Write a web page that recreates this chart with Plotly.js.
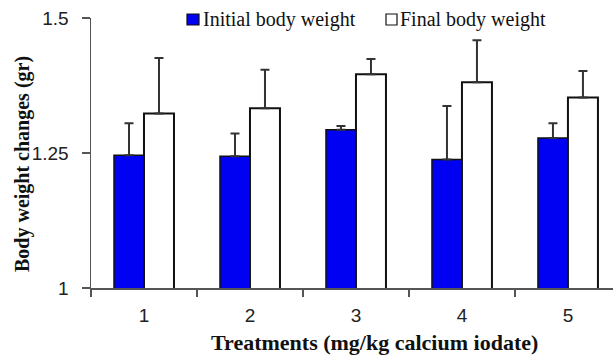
<!DOCTYPE html>
<html>
<head>
<meta charset="utf-8">
<script src="https://cdn.plot.ly/plotly-3.0.1.min.js"></script>
<style>html,body{margin:0;padding:0;background:#fff;}#chart{width:613px;height:360px;}</style>
</head>
<body>
<div id="chart"></div>
<script>
const categories = ["1", "2", "3", "4", "5"];
const initialWeight = [1.246, 1.244, 1.293, 1.238, 1.278];
const initialErr = [0.059, 0.042, 0.007, 0.099, 0.027];
const finalWeight = [1.323, 1.333, 1.396, 1.381, 1.353];
const finalErr = [0.103, 0.071, 0.028, 0.078, 0.049];
const zeros = [0, 0, 0, 0, 0];
const seriesNames = ["Initial body weight", "Final body weight"];
const yTickVals = [1, 1.25, 1.5];
const yTickText = ["1", "1.25", "1.5"];

// plot area in pixels: left 91, right 613, top 18, bottom 288
const PL = 91, PW = 522, PT = 18, PH = 270;
const px = (x) => (x - PL) / PW;
const py = (y) => (PT + PH - y) / PH;

const errStyle = (arr) => ({
  type: "data", symmetric: false, array: arr, arrayminus: zeros,
  visible: true, color: "#333333", thickness: 2, width: 4.5
});

const traces = [
  {
    type: "bar", name: seriesNames[0], x: categories, y: initialWeight,
    marker: {color: "#0000f2", line: {color: "#111111", width: 1.5}},
    error_y: errStyle(initialErr), showlegend: false
  },
  {
    type: "bar", name: seriesNames[1], x: categories, y: finalWeight,
    marker: {color: "#ffffff", line: {color: "#111111", width: 2}},
    error_y: errStyle(finalErr), showlegend: false
  }
];

const serif = "Liberation Serif, Times New Roman, serif";
const sans = "Liberation Sans, Arial, sans-serif";

const layout = {
  width: 613, height: 360,
  margin: {l: PL, r: 0, t: PT, b: 360 - PT - PH},
  paper_bgcolor: "#ffffff", plot_bgcolor: "#ffffff",
  barmode: "group", bargap: 0.434, bargroupgap: 0,
  font: {family: sans, color: "#222222", size: 19},
  xaxis: {
    type: "category", range: [-0.5, 4.425],
    showline: true, linecolor: "#555555", linewidth: 1.5,
    ticks: "outside", tickson: "boundaries", ticklen: 7, tickcolor: "#555555", tickwidth: 1.5,
    showgrid: false, zeroline: false, ticklabelstandoff: 10,
    tickfont: {family: sans, size: 19, color: "#222222"}
  },
  yaxis: {
    range: [1, 1.5], tickvals: yTickVals, ticktext: yTickText,
    showline: true, linecolor: "#555555", linewidth: 1.5,
    ticks: "outside", ticklen: 8, tickcolor: "#555555", tickwidth: 1.5,
    showgrid: false, zeroline: false, ticklabelstandoff: 9,
    tickfont: {family: sans, size: 19, color: "#222222"}
  },
  showlegend: false,
  shapes: [
    {type: "rect", xref: "paper", yref: "paper", x0: px(187), x1: px(199), y0: py(25), y1: py(14),
     fillcolor: "#0000f2", line: {color: "#111111", width: 1.2}},
    {type: "rect", xref: "paper", yref: "paper", x0: px(386), x1: px(397), y0: py(25), y1: py(14),
     fillcolor: "#ffffff", line: {color: "#111111", width: 1.2}}
  ],
  annotations: [
    {text: seriesNames[0], xref: "paper", yref: "paper", x: px(201), y: py(19.5),
     xanchor: "left", yanchor: "middle", showarrow: false,
     font: {family: serif, size: 20, color: "#111111"}},
    {text: seriesNames[1], xref: "paper", yref: "paper", x: px(398), y: py(19.5),
     xanchor: "left", yanchor: "middle", showarrow: false,
     font: {family: serif, size: 20, color: "#111111"}},
    {text: "<b>Treatments (mg/kg calcium iodate)</b>", xref: "paper", yref: "paper",
     x: px(374), y: py(342), xanchor: "center", yanchor: "middle", showarrow: false,
     font: {family: serif, size: 22, color: "#111111"}},
    {text: "<b>Body weight changes (gr)</b>", xref: "paper", yref: "paper",
     x: px(22), y: py(164), xanchor: "center", yanchor: "middle", showarrow: false, textangle: -90,
     font: {family: serif, size: 20, color: "#111111"}}
  ]
};

Plotly.newPlot("chart", traces, layout, {displayModeBar: false, staticPlot: true});
</script>
</body>
</html>
